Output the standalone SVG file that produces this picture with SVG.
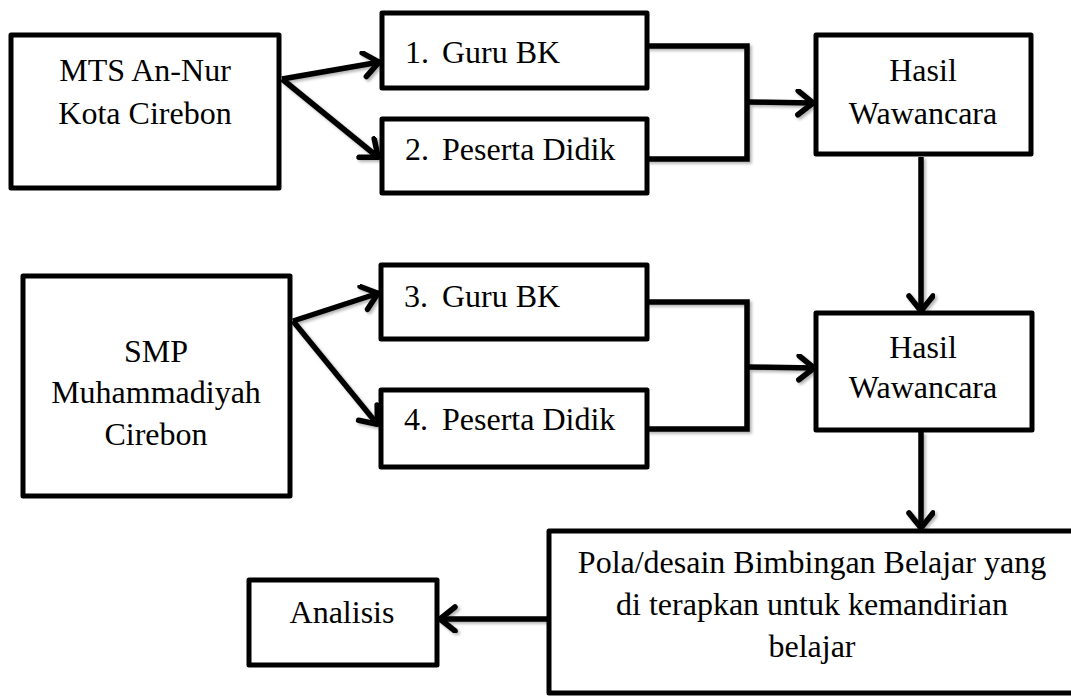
<svg xmlns="http://www.w3.org/2000/svg" width="1071" height="696" viewBox="0 0 1071 696">
<style>
.box{fill:#fff;stroke:#000;stroke-width:5;stroke-linejoin:round}
.t{font-family:"Liberation Serif","Times New Roman",serif;font-size:32px;fill:#000}
.c{text-anchor:middle}
.ln{fill:none;stroke:#000;stroke-width:5.5;stroke-linejoin:miter}
</style>
<defs>
<marker id="ah" markerUnits="userSpaceOnUse" markerWidth="28" markerHeight="32" viewBox="0 0 28 32" refX="19" refY="14" orient="auto">
<path d="M3,2 L18,14 L3,26" fill="none" stroke="#000" stroke-width="5.5" stroke-linecap="round" stroke-linejoin="round"/>
</marker>
<filter id="sh" x="-10%" y="-10%" width="130%" height="130%">
<feDropShadow dx="2" dy="2" stdDeviation="1.5" flood-color="#000" flood-opacity="0.3"/>
</filter>
</defs>
<rect width="1071" height="696" fill="#fff"/>

<g id="connectors" filter="url(#sh)">
<line class="ln" x1="282" y1="79" x2="380" y2="62" marker-end="url(#ah)"/>
<line class="ln" x1="282" y1="79" x2="379" y2="158" marker-end="url(#ah)"/>
<polyline class="ln" points="647,46 747,46 747,159 647,159"/>
<line class="ln" x1="747" y1="102" x2="814" y2="103" marker-end="url(#ah)"/>
<line class="ln" x1="921" y1="157" x2="921" y2="312" marker-end="url(#ah)"/>
<line class="ln" x1="293" y1="321" x2="379" y2="293" marker-end="url(#ah)"/>
<line class="ln" x1="293" y1="321" x2="378" y2="425" marker-end="url(#ah)"/>
<polyline class="ln" points="647,302 747,302 747,429 647,429"/>
<line class="ln" x1="747" y1="367" x2="815" y2="368" marker-end="url(#ah)"/>
<line class="ln" x1="921" y1="432" x2="921" y2="529" marker-end="url(#ah)"/>
<line class="ln" x1="548" y1="619" x2="439" y2="619" marker-end="url(#ah)"/>
</g>

<g id="n-mts">
<rect class="box" x="11" y="35" width="268" height="153"/>
<text class="t c" x="145" y="81">MTS An-Nur</text>
<text class="t c" x="145" y="124">Kota Cirebon</text>
</g>
<g id="n-guru1">
<rect class="box" x="382" y="13" width="265" height="75"/>
<text class="t" y="63"><tspan x="405">1.</tspan><tspan x="442">Guru BK</tspan></text>
</g>
<g id="n-peserta2">
<rect class="box" x="382" y="119" width="265" height="74"/>
<text class="t" y="160"><tspan x="405">2.</tspan><tspan x="442">Peserta Didik</tspan></text>
</g>
<g id="n-hasil1">
<rect class="box" x="816" y="35" width="215" height="119"/>
<text class="t c" x="923" y="81">Hasil</text>
<text class="t c" x="923" y="124">Wawancara</text>
</g>
<g id="n-smp">
<rect class="box" x="23" y="276" width="267" height="220"/>
<text class="t c" x="156" y="362">SMP</text>
<text class="t c" x="156" y="403">Muhammadiyah</text>
<text class="t c" x="156" y="445">Cirebon</text>
</g>
<g id="n-guru3">
<rect class="box" x="381" y="265" width="266" height="74"/>
<text class="t" y="307"><tspan x="404">3.</tspan><tspan x="442">Guru BK</tspan></text>
</g>
<g id="n-peserta4">
<rect class="box" x="381" y="390" width="266" height="77"/>
<text class="t" y="430"><tspan x="404">4.</tspan><tspan x="442">Peserta Didik</tspan></text>
</g>
<g id="n-hasil2">
<rect class="box" x="816" y="313" width="216" height="117"/>
<text class="t c" x="923" y="358">Hasil</text>
<text class="t c" x="923" y="398">Wawancara</text>
</g>
<g id="n-pola">
<rect class="box" x="549" y="531" width="540" height="162"/>
<text class="t c" x="812" y="573">Pola/desain Bimbingan Belajar yang</text>
<text class="t c" x="812" y="615">di terapkan untuk kemandirian</text>
<text class="t c" x="812" y="657">belajar</text>
</g>
<g id="n-analisis">
<rect class="box" x="249" y="580" width="188" height="85"/>
<text class="t c" x="342" y="623">Analisis</text>
</g>
</svg>
